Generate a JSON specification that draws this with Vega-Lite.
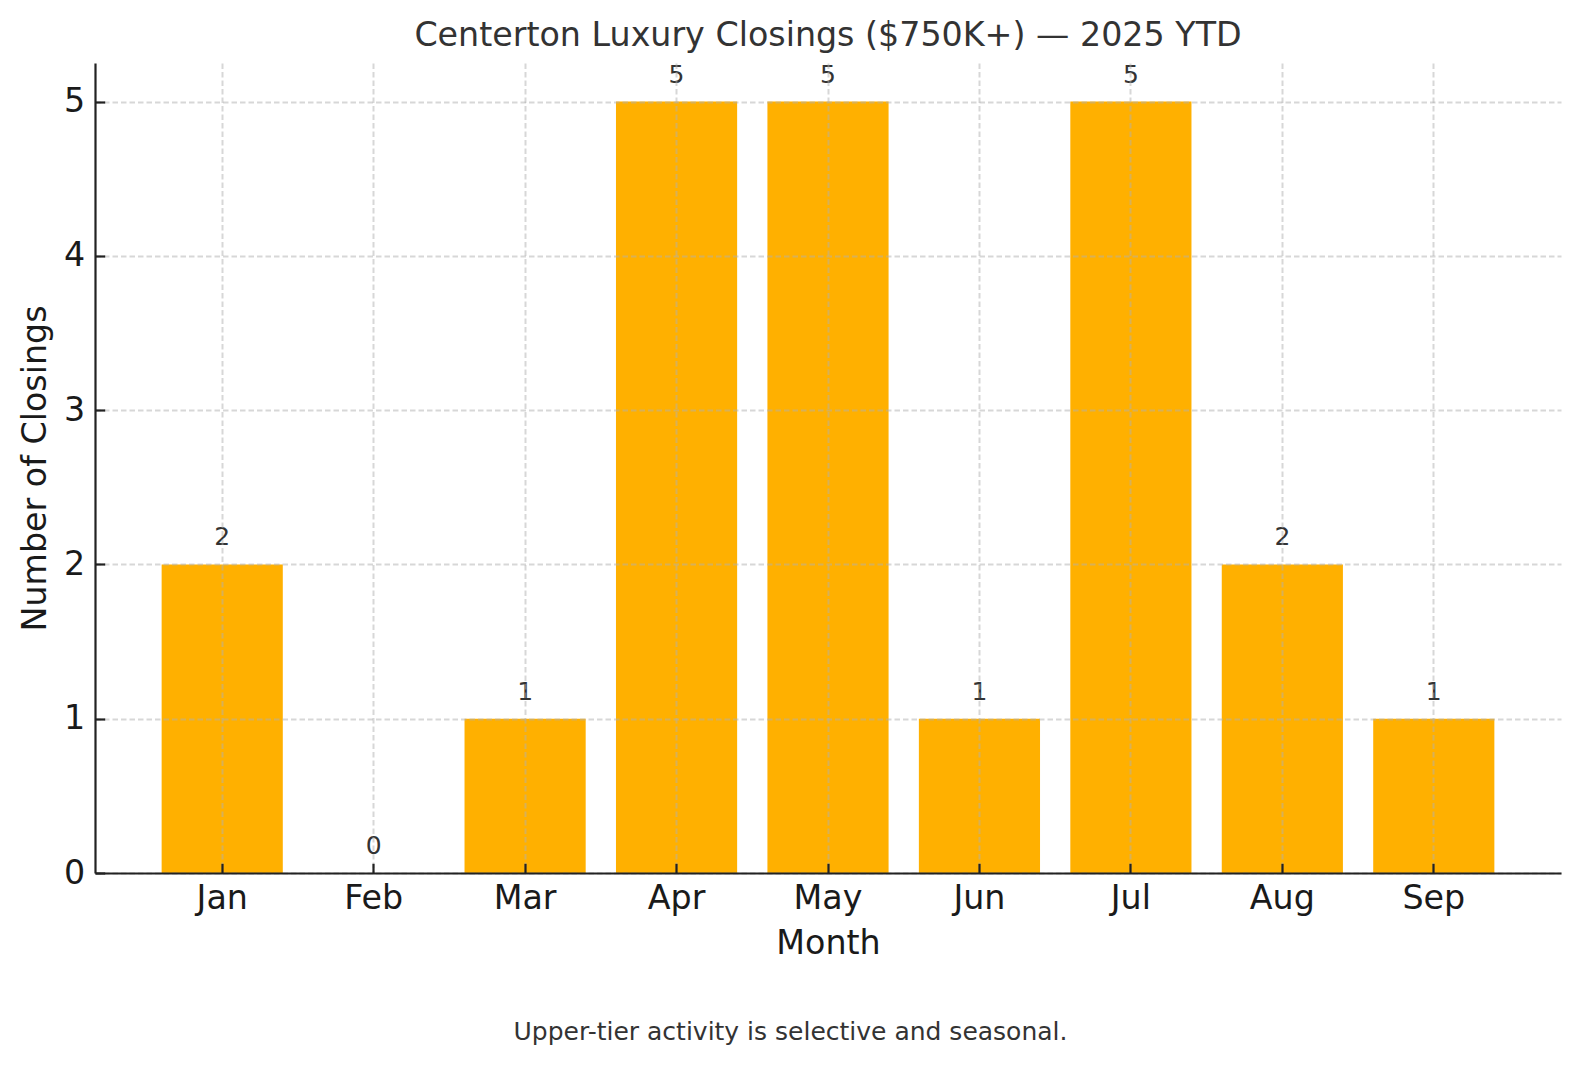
{
  "$schema": "https://vega.github.io/schema/vega-lite/v6.json",
  "width": 1466,
  "height": 810,
  "autosize": {"type": "none"},
  "padding": {"left": 95, "top": 63, "right": 19, "bottom": 192},
  "background": "white",
  "config": {"view": {"stroke": null}, "font": "DejaVu Sans"},
  "title": {
    "text": "Centerton Luxury Closings ($750K+) — 2025 YTD",
    "fontSize": 33.3,
    "font": "DejaVu Sans",
    "fontWeight": "normal",
    "color": "#333333",
    "baseline": "alphabetic",
    "offset": 16,
    "dy": 33,
    "anchor": "middle"
  },
  "data": {
    "values": [
      {"month": "Jan", "closings": 2},
      {"month": "Feb", "closings": 0},
      {"month": "Mar", "closings": 1},
      {"month": "Apr", "closings": 5},
      {"month": "May", "closings": 5},
      {"month": "Jun", "closings": 1},
      {"month": "Jul", "closings": 5},
      {"month": "Aug", "closings": 2},
      {"month": "Sep", "closings": 1}
    ]
  },
  "layer": [
    {
      "mark": {"type": "bar", "color": "#FFB000"},
      "encoding": {
        "x": {
          "field": "month",
          "type": "nominal",
          "sort": null,
          "scale": {"type": "band", "paddingInner": 0.2, "paddingOuter": 0.44},
          "axis": {
            "orient": "bottom",
            "title": "Month",
            "titleFont": "DejaVu Sans",
            "titleFontSize": 33.3,
            "titleFontWeight": "normal",
            "titleColor": "#1a1a1a",
            "titleY": 70,
            "titleBaseline": "middle",
            "labelAngle": 0,
            "labelFont": "DejaVu Sans",
            "labelFontSize": 33.3,
            "labelColor": "#1a1a1a",
            "labelPadding": 19,
            "bandPosition": 0.5,
            "tickSize": -9.7,
            "tickColor": "#222222",
            "tickWidth": 2.2,
            "domainColor": "#222222",
            "domainWidth": 2.2,
            "grid": true,
            "gridColor": "#b0b0b0",
            "gridOpacity": 0.5,
            "gridDash": [5.5, 3],
            "gridWidth": 2,
            "zindex": 1
          }
        },
        "y": {
          "field": "closings",
          "type": "quantitative",
          "scale": {"domain": [0, 5.25], "nice": false, "zero": true},
          "axis": {
            "title": "Number of Closings",
            "titleFont": "DejaVu Sans",
            "titleFontSize": 33.3,
            "titleFontWeight": "normal",
            "titleColor": "#1a1a1a",
            "titleX": -60,
            "titleY": 405,
            "titleAngle": 270,
            "titleBaseline": "middle",
            "titleAlign": "center",
            "values": [0, 1, 2, 3, 4, 5],
            "format": "d",
            "labelFont": "DejaVu Sans",
            "labelFontSize": 33.3,
            "labelColor": "#1a1a1a",
            "labelPadding": 20,
            "tickSize": -9.7,
            "tickColor": "#222222",
            "tickWidth": 2.2,
            "domainColor": "#222222",
            "domainWidth": 2.2,
            "grid": true,
            "gridColor": "#b0b0b0",
            "gridOpacity": 0.5,
            "gridDash": [5.5, 3],
            "gridWidth": 2,
            "zindex": 1
          }
        }
      }
    },
    {
      "mark": {
        "type": "text",
        "font": "DejaVu Sans",
        "fontSize": 25,
        "color": "#333333",
        "baseline": "alphabetic",
        "align": "center",
        "dy": -19
      },
      "encoding": {
        "x": {
          "field": "month",
          "type": "nominal",
          "sort": null,
          "scale": {"type": "band", "paddingInner": 0.2, "paddingOuter": 0.44},
          "axis": {
            "orient": "bottom",
            "domain": false,
            "ticks": false,
            "labels": false,
            "grid": false,
            "title": "Upper-tier activity is selective and seasonal.",
            "titleFont": "DejaVu Sans",
            "titleFontSize": 25,
            "titleFontWeight": "normal",
            "titleColor": "#333333",
            "titleX": 695,
            "titleY": 158,
            "titleBaseline": "middle",
            "titleAlign": "center"
          }
        },
        "y": {"field": "closings", "type": "quantitative"},
        "text": {"field": "closings", "type": "quantitative", "format": "d"}
      }
    }
  ],
  "resolve": {"scale": {"x": "independent"}}
}
